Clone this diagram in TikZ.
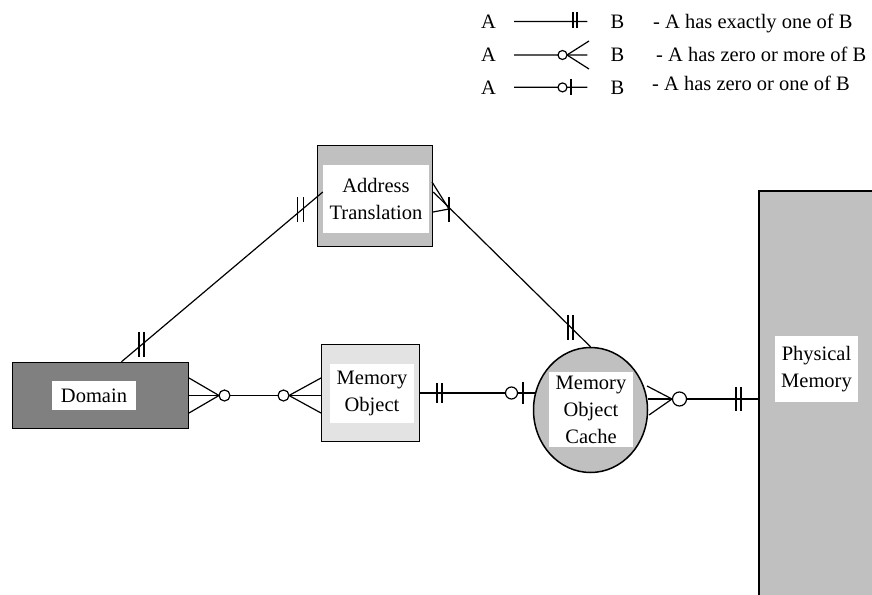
\documentclass[tikz,border=0pt]{standalone}
\usepackage{fontspec}
\setmainfont{Liberation Serif}
\usetikzlibrary{shapes.geometric}

\definecolor{darkbox}{HTML}{808080}
\definecolor{midbox}{HTML}{C0C0C0}
\definecolor{lightbox}{HTML}{E3E3E3}

\tikzset{
  entity/.style={draw, line width=1.5pt, inner sep=0},
  tag/.style={fill=white, inner sep=0, align=center, font=\fontsize{20.5}{27}\selectfont},
  rel/.style={line width=1.2pt},
  ring/.style={draw, fill=white, line width=1.2pt},
  txt/.style={inner sep=0, font=\fontsize{20.5}{24}\selectfont}
}

\begin{document}
\begin{tikzpicture}[x=1pt,y=-1pt]
 \useasboundingbox (0,0) rectangle (872,594);
 \clip (0,0) rectangle (872,594);

 % la legende
 \foreach \i/\y in {1/28.3, 2/61.7, 3/94}{
   \node[txt, anchor=base] (a\i) at (488.5,\y) {A};
   \node[txt, anchor=base] (b\i) at (617.5,\y) {B};
   \draw[rel, shorten <=18pt, shorten >=23pt] (a\i) -- (b\i);
 }
 \node[txt, anchor=base west] (d1) at (653,28.3) {- A has exactly one of B};
 \node[txt, anchor=base west] (d2) at (656,61.7) {- A has zero or more of B};
 \node[txt, anchor=base west] (d3) at (652,90.7) {- A has zero or one of B};
 \foreach \x in {573,577} \draw[rel] (\x,12) -- (\x,28); % exactly one
 \draw[rel] (589,41) -- (567,55) -- (589,69); % zero or more
 \draw[ring] (562.5,55) circle (4.5pt);
 \draw[rel] (571,79) -- (571,95); % zero or one
 \draw[ring] (562.5,87.4) circle (4.5pt);

 % les entites
 \node[entity, fill=darkbox, minimum width=176, minimum height=66] (dom) at (100.5,395.5) {};
 \node[tag, minimum width=84, minimum height=29] (domt) at (94,395.5) {Domain};
 \node[entity, fill=lightbox, minimum width=98, minimum height=97] (mo) at (370.5,393) {};
 \node[tag, minimum width=84, minimum height=59] (mot) at (372,393.5) {Memory\\Object};
 \node[entity, fill=midbox, minimum width=115, minimum height=101] (adr) at (375,196) {};
 \node[tag, minimum width=106, minimum height=68] (adrt) at (376,199) {Address\\Translation};
 \node[entity, ellipse, fill=midbox, minimum width=114, minimum height=125] (moc) at (590.5,410) {};
 \node[tag, minimum width=84, minimum height=75] (moct) at (591,409.5) {Memory\\Object\\Cache};
 \node[entity, fill=midbox, minimum width=124, minimum height=412, anchor=north west] (pm) at (758,190) {};
 \node[tag, minimum width=83, minimum height=66] (pmt) at (816.5,369) {Physical\\Memory};

 % Domain -- Memory Object
 \draw[rel] (dom.east) -- (dom.east -| mo.west);
 \draw[rel] (189,378) -- (219,395.5) -- (189,413);
 \draw[ring] (224.5,395.5) circle (5.5pt);
 \draw[rel] (321,378) -- (289,395.5) -- (321,413);
 \draw[ring] (283.5,395.5) circle (5.5pt);

 % Memory Object -- Memory Object Cache
 \draw[rel, shorten >=-2pt] (mo.east) -- (moc.west |- mo.east);
 \foreach \x in {437,442} \draw[rel] (\x,383) -- (\x,403);
 \draw[ring] (511.5,393) circle (6pt);
 \draw[rel] (523,382) -- (523,404);

 % Memory Object Cache -- Physical Memory
 \draw[rel] ([yshift=11pt]moc.east) -- ([yshift=11pt]moc.east -| pm.west);
 \draw[rel] (647,386) -- (672,399) -- (649,415);
 \draw[ring] (679.5,399) circle (7pt);
 \foreach \x in {736,741} \draw[rel] (\x,387) -- (\x,411);

 % Domain -- Address Translation
 \draw[rel] ([xshift=21pt]dom.north) -- ([yshift=7pt]adrt.west);
 \foreach \x in {139,144} \draw[rel] (\x,332) -- (\x,357);
 \foreach \x in {297.5,303.5} \draw[rel] (\x,197) -- (\x,222);

 % Address Translation -- Memory Object Cache
 \draw[rel] ([yshift=4pt]adr.east) -- (moc.north);
 \draw[rel] (432,182) -- (449,209) -- (433,212);
 \draw[rel] (449,197) -- (449,222);
 \foreach \x in {568,573} \draw[rel] (\x,315) -- (\x,340);
\end{tikzpicture}
\end{document}
